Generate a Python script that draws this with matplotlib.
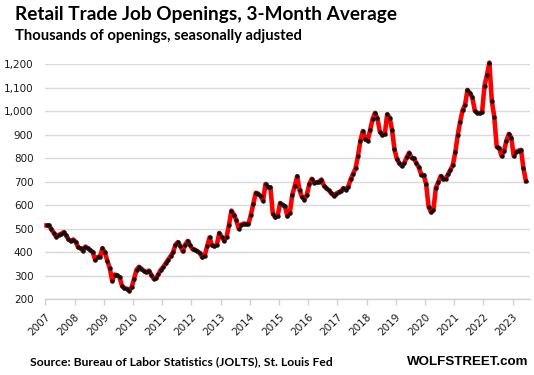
import numpy as np
import matplotlib
matplotlib.use("Agg")
import matplotlib.pyplot as plt

# retail trade job openings, 3-month average, thousands (monthly, Jan 2007 on)
start_year = 2007
openings = [
    514, 514, 498, 481, 465, 474, 478, 485, 472, 455, 447, 454,
    444, 421, 416, 407, 424, 416, 409, 400, 367, 379, 381, 417,
    399, 363, 332, 278, 305, 302, 294, 258, 247, 245, 237, 252,
    288, 326, 338, 330, 321, 314, 322, 305, 288, 289, 307, 326,
    337, 353, 369, 383, 400, 432, 443, 427, 404, 432, 448, 430,
    413, 411, 404, 397, 378, 385, 425, 463, 429, 425, 432, 482,
    465, 449, 465, 517, 577, 560, 536, 500, 517, 522, 520, 520,
    560, 607, 653, 649, 638, 619, 690, 676, 676, 564, 548, 555,
    609, 602, 595, 553, 567, 645, 680, 723, 663, 635, 624, 645,
    690, 712, 695, 697, 700, 709, 683, 673, 663, 652, 641, 649,
    655, 660, 672, 665, 679, 710, 733, 757, 809, 874, 915, 880,
    874, 920, 966, 992, 969, 912, 898, 901, 986, 972, 920, 837,
    796, 778, 767, 778, 803, 823, 802, 799, 778, 761, 730, 728,
    690, 594, 570, 580, 674, 697, 724, 710, 713, 731, 750, 771,
    825, 898, 955, 1004, 1026, 1090, 1076, 1058, 1002, 993, 990, 995,
    1108, 1153, 1206, 1043, 976, 849, 844, 809, 830, 874, 903, 887,
    809, 827, 832, 835, 757, 703,
]
year_ticks = list(range(2007, 2024))
y_ticks = list(range(200, 1300, 100))

title = "Retail Trade Job Openings, 3-Month Average"
subtitle = "Thousands of openings, seasonally adjusted"
source = "Source: Bureau of Labor Statistics (JOLTS), St. Louis Fed"
brand = "WOLFSTREET.com"

W, H = 534, 375
fig = plt.figure(figsize=(W / 100, H / 100), dpi=100)
ax = fig.add_axes([45.3 / W, 75.7 / H, 484.7 / W, 235.3 / H])

# each month plotted at its midpoint
x = start_year + (np.arange(len(openings)) + 0.5) / 12
ax.plot(x, openings, color="#ff0000", lw=3.3, zorder=3, clip_on=False,
        solid_joinstyle="round")
ax.plot(x, openings, "o", color="#111111", ms=2.2, zorder=4, clip_on=False)

ax.set_xlim(start_year, start_year + 484.7 / 29.2)
ax.set_ylim(200, 1200)
ax.set_yticks(y_ticks)
ax.set_yticklabels([f"{v:,}" for v in y_ticks])
ax.set_xticks(year_ticks)
ax.set_xticklabels([str(y) for y in year_ticks], rotation=45, ha="right",
                   va="top", rotation_mode="anchor")

ax.grid(axis="y", color="#d9d9d9", lw=1.0, zorder=0)
ax.set_axisbelow(True)
for s in ["left", "right", "top"]:
    ax.spines[s].set_visible(False)
ax.spines["bottom"].set_color("#d0d0d0")
ax.spines["bottom"].set_linewidth(1.0)
ax.tick_params(axis="y", length=0, pad=8.5, labelsize=7.5, labelcolor="#1a1a1a")
ax.tick_params(axis="x", length=4, width=1.0, color="#d0d0d0", pad=5,
               labelsize=7.5, labelcolor="#1a1a1a")
for lab in ax.get_yticklabels() + ax.get_xticklabels():
    lab.set_family("DejaVu Sans")

fig.text(15 / W, 1 - 20 / H, title, fontsize=13.7, fontweight="bold",
         family="Lato", va="baseline", ha="left")
fig.text(15 / W, 1 - 40 / H, subtitle, fontsize=10.6, fontweight="bold",
         family="Lato", va="baseline", ha="left")
fig.text(30 / W, 1 - 365 / H, source, fontsize=8.7, fontweight="bold",
         family="Lato", va="baseline", ha="left")
fig.text(528 / W, 1 - 365 / H, brand, fontsize=9.6, fontweight="bold",
         family="Liberation Sans", va="baseline", ha="right")

fig.savefig("out.png", dpi=100)
